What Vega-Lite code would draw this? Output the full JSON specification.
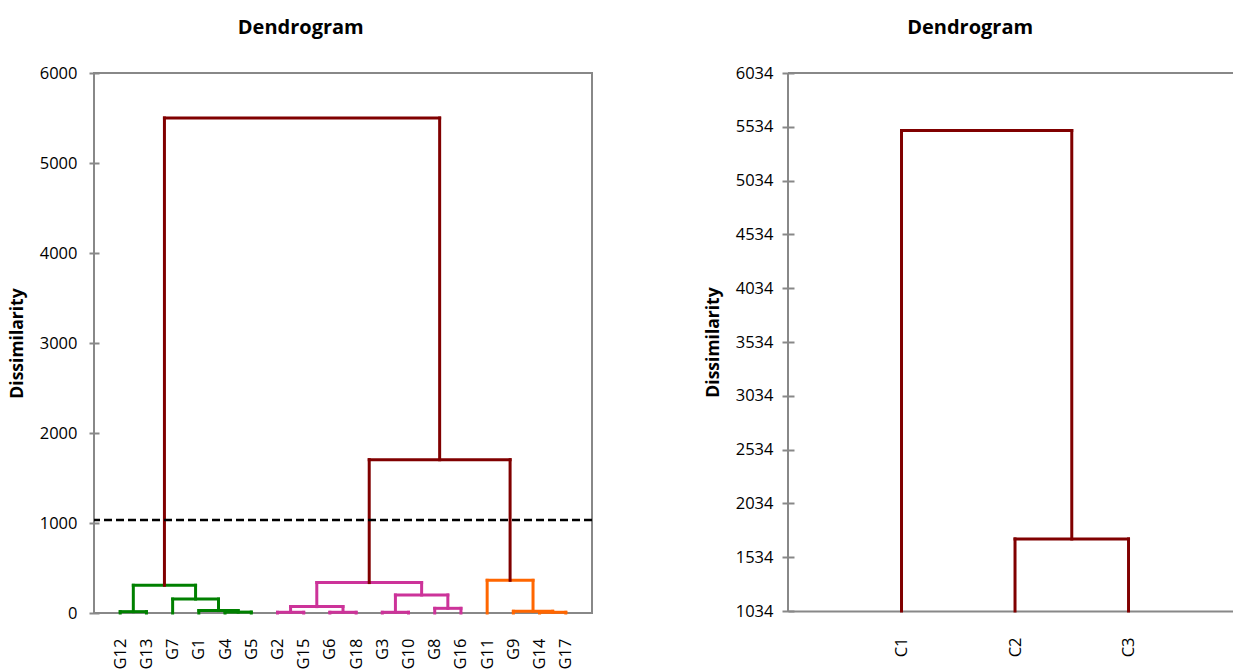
{
  "$schema": "https://vega.github.io/schema/vega-lite/v6.json",
  "padding": {"left": 7, "top": 17, "right": 0, "bottom": 0},
  "background": "white",
  "datasets": {
    "left": [
      {"x":1,"x2":1,"y":0,"y2":15,"c":"g"},
      {"x":2,"x2":2,"y":0,"y2":15,"c":"g"},
      {"x":1,"x2":2,"y":15,"y2":15,"c":"g"},
      {"x":5,"x2":5,"y":0,"y2":10,"c":"g"},
      {"x":6,"x2":6,"y":0,"y2":10,"c":"g"},
      {"x":5,"x2":6,"y":10,"y2":10,"c":"g"},
      {"x":4,"x2":4,"y":0,"y2":27,"c":"g"},
      {"x":5.5,"x2":5.5,"y":10,"y2":27,"c":"g"},
      {"x":4,"x2":5.5,"y":27,"y2":27,"c":"g"},
      {"x":3,"x2":3,"y":0,"y2":155,"c":"g"},
      {"x":4.75,"x2":4.75,"y":27,"y2":155,"c":"g"},
      {"x":3,"x2":4.75,"y":155,"y2":155,"c":"g"},
      {"x":1.5,"x2":1.5,"y":15,"y2":308,"c":"g"},
      {"x":3.875,"x2":3.875,"y":155,"y2":308,"c":"g"},
      {"x":1.5,"x2":3.875,"y":308,"y2":308,"c":"g"},
      {"x":7,"x2":7,"y":0,"y2":8,"c":"p"},
      {"x":8,"x2":8,"y":0,"y2":8,"c":"p"},
      {"x":7,"x2":8,"y":8,"y2":8,"c":"p"},
      {"x":9,"x2":9,"y":0,"y2":8,"c":"p"},
      {"x":10,"x2":10,"y":0,"y2":8,"c":"p"},
      {"x":9,"x2":10,"y":8,"y2":8,"c":"p"},
      {"x":7.5,"x2":7.5,"y":8,"y2":71,"c":"p"},
      {"x":9.5,"x2":9.5,"y":8,"y2":71,"c":"p"},
      {"x":7.5,"x2":9.5,"y":71,"y2":71,"c":"p"},
      {"x":11,"x2":11,"y":0,"y2":8,"c":"p"},
      {"x":12,"x2":12,"y":0,"y2":8,"c":"p"},
      {"x":11,"x2":12,"y":8,"y2":8,"c":"p"},
      {"x":13,"x2":13,"y":0,"y2":52,"c":"p"},
      {"x":14,"x2":14,"y":0,"y2":52,"c":"p"},
      {"x":13,"x2":14,"y":52,"y2":52,"c":"p"},
      {"x":11.5,"x2":11.5,"y":8,"y2":200,"c":"p"},
      {"x":13.5,"x2":13.5,"y":52,"y2":200,"c":"p"},
      {"x":11.5,"x2":13.5,"y":200,"y2":200,"c":"p"},
      {"x":8.5,"x2":8.5,"y":71,"y2":338,"c":"p"},
      {"x":12.5,"x2":12.5,"y":200,"y2":338,"c":"p"},
      {"x":8.5,"x2":12.5,"y":338,"y2":338,"c":"p"},
      {"x":17,"x2":17,"y":0,"y2":8,"c":"o"},
      {"x":18,"x2":18,"y":0,"y2":8,"c":"o"},
      {"x":17,"x2":18,"y":8,"y2":8,"c":"o"},
      {"x":16,"x2":16,"y":0,"y2":19,"c":"o"},
      {"x":17.5,"x2":17.5,"y":8,"y2":19,"c":"o"},
      {"x":16,"x2":17.5,"y":19,"y2":19,"c":"o"},
      {"x":15,"x2":15,"y":0,"y2":363,"c":"o"},
      {"x":16.75,"x2":16.75,"y":19,"y2":363,"c":"o"},
      {"x":15,"x2":16.75,"y":363,"y2":363,"c":"o"},
      {"x":10.5,"x2":10.5,"y":338,"y2":1704,"c":"r"},
      {"x":15.875,"x2":15.875,"y":363,"y2":1704,"c":"r"},
      {"x":10.5,"x2":15.875,"y":1704,"y2":1704,"c":"r"},
      {"x":2.6875,"x2":2.6875,"y":308,"y2":5500,"c":"r"},
      {"x":13.1875,"x2":13.1875,"y":1704,"y2":5500,"c":"r"},
      {"x":2.6875,"x2":13.1875,"y":5500,"y2":5500,"c":"r"}
    ],
    "right": [
      {"x":1,"x2":1,"y":1034,"y2":5500},
      {"x":2,"x2":2,"y":1034,"y2":1704},
      {"x":3,"x2":3,"y":1034,"y2":1704},
      {"x":2,"x2":3,"y":1704,"y2":1704},
      {"x":2.5,"x2":2.5,"y":1704,"y2":5500},
      {"x":1,"x2":2.5,"y":5500,"y2":5500}
    ],
    "cut": [{"d": 1034}]
  },
  "hconcat": [
    {
      "width": 498,
      "height": 540,
      "title": {"text": "Dendrogram"},
      "view": {"stroke": "#888888", "strokeWidth": 2},
      "layer": [
        {
          "data": {"name": "left"},
          "mark": {"type": "rule", "strokeWidth": 3, "strokeCap": "square"},
          "encoding": {
            "x": {"field": "x", "type": "quantitative",
                  "scale": {"domain": [0, 19], "nice": false, "zero": false},
                  "axis": {"title": null, "values": [1,2,3,4,5,6,7,8,9,10,11,12,13,14,15,16,17,18],
                           "labelExpr": "['G12','G13','G7','G1','G4','G5','G2','G15','G6','G18','G3','G10','G8','G16','G11','G9','G14','G17'][datum.value-1]",
                           "labelAngle": -90, "ticks": false, "tickSize": 0, "domain": false, "labelPadding": 25}},
            "x2": {"field": "x2"},
            "y": {"field": "y", "type": "quantitative",
                  "scale": {"domain": [0, 6000], "nice": false, "zero": false},
                  "axis": {"title": "Dissimilarity", "values": [0,1000,2000,3000,4000,5000,6000], "format": "d",
                           "domain": false, "offset": -5, "tickSize": 10, "tickColor": "#888888", "tickWidth": 2,
                           "labelPadding": 12, "titlePadding": 13}},
            "y2": {"field": "y2"},
            "color": {"field": "c", "type": "nominal",
                      "scale": {"domain": ["g","p","o","r"], "range": ["#008000","#CC3399","#FF6600","#800000"]},
                      "legend": null}
          }
        },
        {
          "data": {"name": "cut"},
          "mark": {"type": "rule", "strokeWidth": 2.5, "strokeDash": [8, 4], "color": "#000000"},
          "encoding": {"y": {"field": "d", "type": "quantitative"}}
        }
      ]
    },
    {
      "width": 447,
      "height": 538,
      "title": {"text": "Dendrogram"},
      "layer": [
        {
          "data": {"name": "right"},
          "mark": {"type": "rule", "strokeWidth": 3, "strokeCap": "square", "color": "#800000"},
          "encoding": {
            "x": {"field": "x", "type": "quantitative",
                  "scale": {"domain": [0, 3.938], "nice": false, "zero": false},
                  "axis": {"title": null, "values": [1,2,3], "labelExpr": "'C' + datum.value",
                           "labelAngle": -90, "ticks": false, "tickSize": 0, "domain": true,
                           "domainColor": "#888888", "domainWidth": 2, "labelPadding": 26}},
            "x2": {"field": "x2"},
            "y": {"field": "y", "type": "quantitative",
                  "scale": {"domain": [1034, 6034], "nice": false, "zero": false},
                  "axis": {"title": "Dissimilarity", "values": [1034,1534,2034,2534,3034,3534,4034,4534,5034,5534,6034], "format": "d",
                           "domain": false, "offset": -6, "tickSize": 12, "tickColor": "#888888", "tickWidth": 2,
                           "labelPadding": 9, "titlePadding": 13}},
            "y2": {"field": "y2"}
          }
        },
        {
          "data": {"name": "cut"},
          "mark": {"type": "rule", "strokeWidth": 2, "color": "#888888"},
          "encoding": {"y": {"datum": 6034, "type": "quantitative"}}
        },
        {
          "data": {"name": "cut"},
          "mark": {"type": "rule", "strokeWidth": 2, "color": "#888888"},
          "encoding": {"x": {"datum": 0, "type": "quantitative"}}
        }
      ]
    }
  ],
  "spacing": 109,
  "config": {
    "view": {"stroke": null},
    "axis": {"grid": false, "labelFont": "Open Sans", "titleFont": "Open Sans", "labelColor": "#000000",
             "titleColor": "#000000", "labelFontSize": 16.5, "titleFontSize": 17.5, "titleFontWeight": "bold"},
    "title": {"font": "Open Sans", "fontSize": 20, "fontWeight": "bold", "color": "#000000", "frame": "bounds", "anchor": "middle", "offset": 27}
  }
}
